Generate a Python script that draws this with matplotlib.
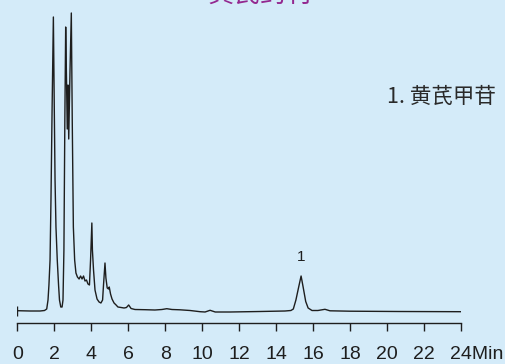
import matplotlib.pyplot as plt
import matplotlib.transforms as mtransforms

# Хроматограма на黄芪 - времена (min) и сигнал (отн. единици)
vreme = [0.00, 0.69, 1.23, 1.47, 1.59, 1.66, 1.71, 1.77, 1.82, 1.88, 1.95,
         2.00, 2.04, 2.09, 2.16, 2.23, 2.28, 2.35, 2.42, 2.47, 2.52, 2.57,
         2.615, 2.66, 2.70, 2.74, 2.78, 2.85, 2.92, 2.97, 3.03, 3.10, 3.17,
         3.25, 3.34, 3.42, 3.50, 3.58, 3.66, 3.74, 3.82, 3.90, 3.96, 4.03,
         4.06, 4.12, 4.20, 4.31, 4.42, 4.52, 4.61, 4.66, 4.74, 4.79, 4.86,
         4.93, 4.97, 5.04, 5.12, 5.23, 5.34, 5.44, 5.61, 5.77, 5.90, 6.02,
         6.15, 6.36, 6.90, 7.44, 7.82, 8.08, 8.36, 8.79, 9.34, 9.88, 10.15,
         10.42, 10.70, 11.50, 13.12, 14.47, 14.79, 14.92, 15.06, 15.21, 15.34,
         15.45, 15.59, 15.72, 15.93, 16.25, 16.63, 16.90, 17.98, 20.60, 24.00]
signal = [0.3, 0, 0, 0.5, 2, 11, 26, 51, 111, 201, 294,
          201, 131, 84, 51, 26, 11, 4, 4, 11, 61, 191,
          284, 231, 182, 226, 172, 241, 298, 191, 84, 51, 38,
          34, 32, 35, 32, 35, 30, 31, 27, 26, 51, 88,
          61, 41, 21, 12, 9, 8, 11, 26, 48, 33, 23,
          22, 24, 17, 12, 8, 6, 4, 3.5, 3, 3.5, 6,
          2.5, 1.5, 1.3, 1, 1.5, 2.3, 1.5, 1.2, 0.5, -0.7, -1,
          0.7, -1, -1, -0.5, 0, 0.5, 2, 11, 24, 35,
          24, 9.5, 3, 0.5, 0.5, 1.7, 0.2, -0.2, -0.5, -0.7]

# Пик 1 - 黄芪甲苷
pik_vreme = 15.34
pik_signal = 35

tiktove = list(range(0, 25, 2))
etiketi = [str(v) for v in tiktove]
etiketi[-1] = "24Min"

fon = "#d4ebf9"
cvyat = "#1e1e1e"

fig = plt.figure(figsize=(5.06, 3.64), dpi=100, facecolor=fon)
ax = fig.add_axes([17.3 / 506, 41 / 364, 444 / 506, 323 / 364])
ax.set_facecolor(fon)

ax.plot(vreme, signal, color=cvyat, lw=1.0)
# начален маркер на записа
ax.plot(vreme[0], signal[0], marker="|", ms=7, mew=1.0, color=cvyat)

ax.annotate("1", xy=(pik_vreme, pik_signal), xytext=(0, 14),
            textcoords="offset points", ha="center", va="center",
            fontsize=11, family="Liberation Sans", color=cvyat)

ax.set_xlim(0, 24)
ax.set_ylim(-12, 311)
for s in ["top", "right", "left"]:
    ax.spines[s].set_visible(False)
ax.spines["bottom"].set_color(cvyat)
ax.spines["bottom"].set_linewidth(1.0)
ax.set_yticks([])
ax.set_xticks(tiktove)
ax.set_xticklabels(etiketi, family="Liberation Sans", fontsize=14)
ax.tick_params(axis="x", direction="out", length=5.8, width=1.0,
               color=cvyat, pad=11, labelcolor=cvyat)

# "24Min" - изместване надясно
posleden = ax.get_xticklabels()[-1]
posleden.set_transform(posleden.get_transform() +
                       mtransforms.ScaledTranslation(0.15, 0, fig.dpi_scale_trans))

fig.text(386.7 / 506, 1 - 97 / 364, "1. 黄芪甲苷", ha="left", va="center",
         fontsize=15.5, family=["Noto Sans CJK SC", "DejaVu Sans"], color="#2a2a2a")
fig.text(260 / 506, 1 + 6 / 364, "黄芪药材", ha="center", va="center",
         fontsize=19, family=["Noto Sans CJK SC", "DejaVu Sans"], color="#93278f")

fig.savefig("out.png", dpi=100, facecolor=fon)
